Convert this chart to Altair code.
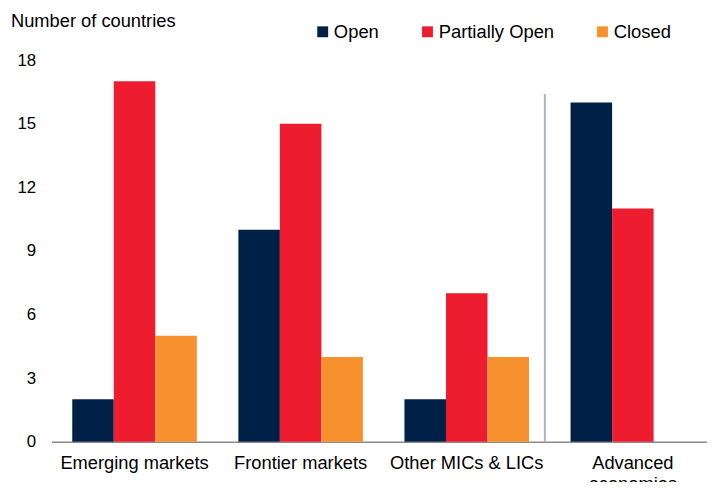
import altair as alt
import pandas as pd

categories = ["Emerging markets", "Frontier markets", "Other MICs & LICs", "Advanced economies"]
series = ["Open", "Partially Open", "Closed"]
open_vals = [2, 10, 2, 16]
partial_vals = [17, 15, 7, 11]
closed_vals = [5, 4, 4, 0]
colors = ["#002147", "#ED1C2E", "#F7912D"]
y_ticks = [0, 3, 6, 9, 12, 15, 18]
separator_top = 16.4

rows = []
for s, vals in zip(series, [open_vals, partial_vals, closed_vals]):
    for c, v in zip(categories, vals):
        rows.append({"category": c, "status": s, "value": v})
df = pd.DataFrame(rows)

FONT = "Liberation Sans"

x_scale = alt.Scale(domain=categories, range=[0, 672], paddingInner=0.25, paddingOuter=0.125)
y_scale = alt.Scale(domain=[0, 18], nice=False)

bars = alt.Chart(df).mark_bar().encode(
    x=alt.X("category:N", scale=x_scale, sort=categories,
            axis=alt.Axis(title=None, labelAngle=0, labelFontSize=18.5, labelFont=FONT,
                          labelColor="#000000", labelPadding=12, ticks=False,
                          domainColor="#8a8a8a", domainWidth=1.5, labelOverlap=False,
                          labelExpr="datum.label == 'Advanced economies' ? ['Advanced', 'economies'] : datum.label",
                          labelLineHeight=21)),
    xOffset=alt.XOffset("status:N", sort=series, scale=alt.Scale(domain=series, paddingInner=0, paddingOuter=0)),
    y=alt.Y("value:Q", scale=y_scale,
            axis=alt.Axis(values=y_ticks, title=None, grid=False, domain=False, ticks=False,
                          labelPadding=16, labelFontSize=17, labelFont=FONT, labelColor="#000000")),
    color=alt.Color("status:N", sort=series, scale=alt.Scale(domain=series, range=colors),
                    legend=alt.Legend(orient="none", legendX=265, legendY=-38, direction="horizontal",
                                      title=None, symbolType="square", symbolSize=121,
                                      labelFontSize=18.6, labelFont=FONT, labelColor="#000000",
                                      columnPadding=39, labelOffset=2, symbolStrokeWidth=0)),
)

sep_df = pd.DataFrame({"top": [separator_top]})
separator = alt.Chart(sep_df).mark_rule(color="#A9B3C1", strokeWidth=2, xOffset=-26).encode(
    x=alt.XDatum("Advanced economies", bandPosition=0, scale=x_scale),
    y=alt.Y("top:Q", scale=y_scale),
    y2=alt.Y2Datum(0),
)

chart = alt.layer(bars, separator).properties(
    width=663, height=386,
    autosize=alt.AutoSizeParams(type="none"),
    padding={"left": 44, "top": 50, "right": 0, "bottom": 38},
    title=alt.TitleParams("Number of countries", anchor="start", frame="group", fontSize=18.5,
                          font=FONT, fontWeight="normal", color="#000000", dx=-41, offset=-8),
).configure_view(stroke=None)

chart.save("out.html", embed_options={"renderer": "svg", "actions": False})
